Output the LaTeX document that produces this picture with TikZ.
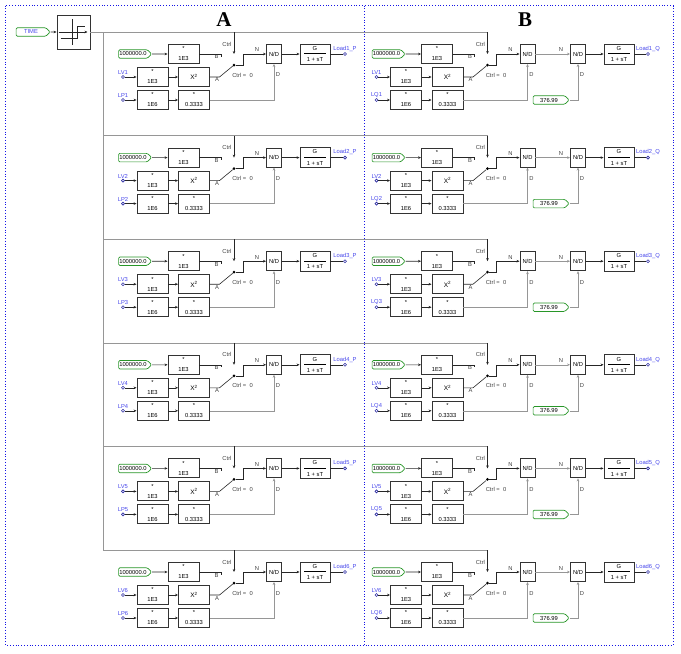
\documentclass[tikz,border=0pt]{standalone}
\usepackage{fontspec}
\setmainfont{Liberation Sans}
\newfontfamily\titlefont{Liberation Serif}
\usetikzlibrary{shapes.symbols,arrows.meta}

\definecolor{frameblue}{RGB}{20,20,230}
\definecolor{labblue}{RGB}{70,70,235}
\definecolor{constgreen}{RGB}{40,150,40}
\definecolor{wiregray}{RGB}{150,150,150}

\tikzset{
  blk/.style={draw=black!80,line width=0.9pt,fill=white,minimum width=31pt,minimum height=19pt,
    inner sep=0pt,align=center,font=\fontsize{5.8}{10}\selectfont},
  ndbox/.style={blk,minimum width=15pt,font=\fontsize{5.8}{6}\selectfont},
  tfbox/.style={blk,minimum width=30pt,minimum height=20pt,font=\fontsize{5.8}{6}\selectfont},
  const/.style={signal,signal to=east,rounded corners=1.2pt,draw=constgreen,line width=0.7pt,
    fill=white,minimum width=33pt,minimum height=8.5pt,inner sep=0.3pt,font=\fontsize{5.8}{6}\selectfont},
  term/.style={circle,draw=labblue!70!black,line width=0.6pt,minimum size=3pt,inner sep=0pt},
  swdot/.style={circle,fill=black,minimum size=3pt,inner sep=0pt},
  lab/.style={inner sep=0pt,text=black!75,font=\fontsize{5.8}{6}\selectfont},
  blab/.style={inner sep=0.5pt,text=labblue,font=\fontsize{5.8}{6}\selectfont},
  wire/.style={draw=black!85,line width=0.6pt},
  gwire/.style={draw=wiregray,line width=0.6pt},
  frame/.style={draw=frameblue,dotted,line width=0.8pt},
  >={Stealth[length=3pt,width=2.6pt]}
}

\begin{document}
\begin{tikzpicture}[x=1pt,y=-1pt]
\useasboundingbox (0,0) rectangle (681,654);
% frame and column divider
\draw[frame] (5.5,5.5) rectangle (673,645);
\draw[frame] (364.5,5.5) -- (364.5,645);
\node[font=\titlefont\bfseries\fontsize{21}{21}\selectfont,inner sep=0pt] (ttlA) at (224,20) {A};
\node[font=\titlefont\bfseries\fontsize{21}{21}\selectfont,inner sep=0pt] (ttlB) at (525,20) {B};

% time source and step
\node[const,minimum width=34pt,text=labblue] (time) at (31,32) {TIME};
\node[blk,minimum width=33pt,minimum height=34pt] (stp) at (73.5,32) {};
\begin{scope}[shift={(stp.center)}]
  \draw[wire,line width=0.5pt] (-1.5,-13) -- (-1.5,13);
  \draw[wire,line width=0.5pt,->] (-15,0) -- (14,0);
  \draw[wire,line width=0.5pt] (-13,6) -- (3.5,6) -- (3.5,-6) -- (11,-6);
\end{scope}
\draw[wire,->] (time) -- (stp);

\foreach \k in {1,...,6} {
  \pgfmathsetmacro\yy{54+(\k-1)*103.6}
  \pgfmathsetmacro\by{\yy-22}
  \coordinate (bus\k) at (103,\by);
  \coordinate (busr\k) at (487.5,\by);
  \draw[gwire] (bus\k) -- (busr\k);
  \foreach \c/\xo/\lp in {A/0/LP,B/253.5/LQ} {
    % top row
    \node[const] (cst\c\k) at (133+\xo,\yy) {1000000.0};
    \node[blk] (gb\c\k) at (183.5+\xo,\yy) {*\\1E3};
    % LV row
    \node[term,label={[blab]above:LV\k}] (iv\c\k) at (123+\xo,\yy+23) {};
    \node[blk] (gv\c\k) at (152.5+\xo,\yy+23) {*\\1E3};
    \node[blk,font=\fontsize{6.5}{7}\selectfont] (sq\c\k) at (194+\xo,\yy+23) {X\textsuperscript{2}};
    % LP / LQ row
    \node[term,label={[blab]above:\lp\k}] (ip\c\k) at (123+\xo,\yy+46) {};
    \node[blk] (gp\c\k) at (152.5+\xo,\yy+46) {*\\1E6};
    \node[blk] (sc\c\k) at (194+\xo,\yy+46) {*\\0.3333};
    % switch
    \coordinate (sb\c\k) at (221+\xo,\yy);
    \coordinate (sa\c\k) at (219.5+\xo,\yy+23);
    \coordinate (ct\c\k) at (234+\xo,\by);
    \coordinate (ce\c\k) at (234+\xo,\yy);
    \node[swdot] (sw\c\k) at (234+\xo,\yy+11) {};
    \node[ndbox] (nd\c\k) at (274+\xo,\yy) {N/D};
    \node[lab] (lb\c\k) at (216.5+\xo,\yy+3) {B};
    \node[lab] (la\c\k) at (217+\xo,\yy+26) {A};
    \node[lab] (lc\c\k) at (227+\xo,\yy-10) {Ctrl};
    \node[lab] (lz\c\k) at (242.5+\xo,\yy+21) {Ctrl =\ \ 0};
    \node[lab] (ln\c\k) at (257+\xo,\yy-4) {N};
    \node[lab] (ld\c\k) at (278+\xo,\yy+21) {D};
    % wires
    \draw[wire,->] (cst\c\k) -- (gb\c\k);
    \draw[wire] (gb\c\k) -- (sb\c\k) -- ++(0,2.5);
    \draw[wire,->] (iv\c\k) -- (gv\c\k);
    \draw[wire,->] (gv\c\k) -- (sq\c\k);
    \draw[wire] (sq\c\k) -- (sa\c\k) -- (sw\c\k);
    \draw[wire,->] (sw\c\k) -- ++(9,0) |- (nd\c\k.west);
    \draw[wire,->] (ip\c\k) -- (gp\c\k);
    \draw[wire,->] (gp\c\k) -- (sc\c\k);
    \draw[gwire,->] (sc\c\k) -| (nd\c\k.south);
    \draw[wire,->] (ct\c\k) -- (ce\c\k);
  }
  % A: lag and output
  \node[tfbox] (tfA\k) at (315,\yy) {G\\[-2.5pt]\rule{22pt}{0.45pt}\\[2pt]1 + sT};
  \node[term,label={[blab]above:Load\k\_P}] (oA\k) at (345,\yy) {};
  \draw[wire,->] (ndA\k) -- (tfA\k);
  \draw[wire] (tfA\k) -- (oA\k);
  % B: second division, lag and output
  \node[const,minimum width=36pt] (kq\k) at (549,\yy+46) {376.99};
  \node[ndbox] (ndd\k) at (578,\yy) {N/D};
  \node[lab] (lm\k) at (561,\yy-4) {N};
  \node[lab] (le\k) at (582,\yy+21) {D};
  \node[tfbox] (tfB\k) at (619,\yy) {G\\[-2.5pt]\rule{22pt}{0.45pt}\\[2pt]1 + sT};
  \node[term,label={[blab]above:Load\k\_Q}] (oB\k) at (648,\yy) {};
  \draw[gwire,->] (ndB\k) -- (ndd\k);
  \draw[gwire,->] (kq\k) -| (ndd\k.south);
  \draw[wire,->] (ndd\k) -- (tfB\k);
  \draw[wire] (tfB\k) -- (oB\k);
}
\draw[gwire] (stp) -- (bus1);
\draw[gwire] (bus1) -- (bus6);
\end{tikzpicture}
\end{document}
